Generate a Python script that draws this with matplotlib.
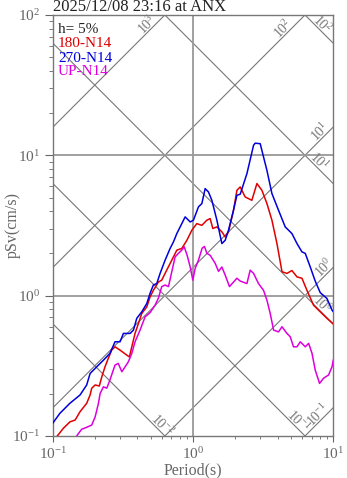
import numpy as np
import matplotlib
matplotlib.use("Agg")
import matplotlib.pyplot as plt

plt.rcParams["font.family"] = ["Liberation Serif", "DejaVu Serif"]
plt.rcParams["mathtext.fontset"] = "custom"
plt.rcParams["mathtext.rm"] = "Liberation Serif"
plt.rcParams["mathtext.it"] = "Liberation Serif:italic"

# response spectra (period s, pSv cm/s)
t_180 = [0.100, 0.109, 0.1186, 0.132, 0.144, 0.156, 0.174, 0.184, 0.189, 0.200, 0.214, 0.223, 0.235, 0.248,
         0.262, 0.277, 0.301, 0.336, 0.351, 0.365, 0.385, 0.407, 0.430, 0.467, 0.493, 0.520, 0.565, 0.597,
         0.648, 0.704, 0.765, 0.830, 0.902, 0.980, 1.062, 1.154, 1.253, 1.322, 1.382, 1.477, 1.603, 1.693,
         1.788, 1.941, 2.052, 2.167, 2.35, 2.624, 2.851, 3.096, 3.360, 3.648, 3.963, 4.305, 4.67, 5.068,
         5.507, 5.977, 6.49, 7.23, 8.07, 9.01, 10.0]
sv_180 = [0.091, 0.102, 0.1135, 0.126, 0.130, 0.149, 0.171, 0.196, 0.219, 0.231, 0.227, 0.264, 0.311, 0.357,
          0.409, 0.432, 0.409, 0.377, 0.366, 0.432, 0.538, 0.634, 0.746, 0.832, 0.980, 1.09, 1.25, 1.29,
          1.52, 1.79, 2.11, 2.17, 2.48, 2.93, 3.26, 3.17, 3.45, 3.54, 3.01, 3.09, 2.85, 2.62,
          2.85, 4.06, 5.63, 5.95, 5.05, 4.78, 6.29, 5.63, 4.53, 3.45, 2.35, 1.48, 1.44, 1.51,
          1.36, 1.33, 1.09, 0.855, 0.767, 0.689, 0.627]

t_270 = [0.100, 0.112, 0.132, 0.156, 0.174, 0.184, 0.205, 0.229, 0.255, 0.277, 0.301, 0.318, 0.355, 0.375,
         0.396, 0.430, 0.467, 0.493, 0.520, 0.550, 0.581, 0.631, 0.685, 0.723, 0.765, 0.830, 0.877, 0.953,
         1.005, 1.091, 1.154, 1.218, 1.286, 1.360, 1.477, 1.603, 1.693, 1.788, 1.941, 2.052, 2.167, 2.420,
         2.699, 2.773, 3.010, 3.179, 3.360, 3.648, 4.066, 4.538, 5.068, 5.507, 5.977, 6.31, 6.85, 7.43,
         8.07, 9.01, 9.79, 10.0]
sv_270 = [0.124, 0.145, 0.171, 0.196, 0.231, 0.279, 0.311, 0.347, 0.388, 0.469, 0.469, 0.538, 0.538, 0.568,
          0.689, 0.767, 0.879, 1.04, 1.19, 1.22, 1.44, 1.79, 2.17, 2.41, 2.77, 3.26, 3.64, 3.35,
          3.45, 4.29, 4.53, 5.79, 5.48, 4.78, 3.45, 2.35, 2.48, 2.93, 4.06, 5.19, 5.28, 7.41,
          11.8, 12.2, 12.1, 9.73, 7.82, 5.34, 4.06, 3.09, 2.77, 2.35, 2.05, 2.00, 1.60, 1.27,
          1.05, 0.955, 0.789, 0.769]

t_up = [0.135, 0.1476, 0.160, 0.174, 0.189, 0.200, 0.211, 0.217, 0.229, 0.242, 0.255, 0.277, 0.292, 0.310,
        0.327, 0.345, 0.365, 0.385, 0.418, 0.454, 0.493, 0.535, 0.565, 0.597, 0.631, 0.667, 0.704, 0.744,
        0.785, 0.830, 0.863, 0.906, 0.953, 0.995, 1.033, 1.091, 1.160, 1.205, 1.253, 1.322, 1.436, 1.517,
        1.603, 1.693, 1.816, 1.941, 2.052, 2.167, 2.420, 2.553, 2.699, 2.926, 3.179, 3.360, 3.548, 3.750,
        4.066, 4.305, 4.67, 4.93, 5.20, 5.507, 5.81, 6.31, 6.67, 7.05, 7.43, 7.98, 8.52, 9.25, 9.79, 10.0]
sv_up = [0.089, 0.100, 0.1116, 0.1153, 0.1197, 0.137, 0.171, 0.201, 0.224, 0.219, 0.251, 0.320, 0.329, 0.287,
         0.311, 0.338, 0.388, 0.469, 0.568, 0.706, 0.757, 0.855, 0.960, 1.16, 1.19, 1.16, 1.48, 1.89,
         2.00, 2.11, 2.23, 1.94, 1.60, 1.29, 1.56, 1.79, 2.18, 2.24, 2.00, 1.94, 1.70, 1.49,
         1.60, 1.40, 1.16, 1.25, 1.33, 1.27, 1.22, 1.52, 1.44, 1.22, 1.09, 0.929, 0.746, 0.568,
         0.552, 0.600, 0.538, 0.509, 0.432, 0.432, 0.469, 0.432, 0.457, 0.388, 0.295, 0.237, 0.258, 0.272,
         0.311, 0.347]

# tripartite grid: acceleration (cm/s2) and displacement (cm) levels
accel_levels = [1e-1, 1e0, 1e1, 1e2, 1e3]
accel_label_t = [8.35, 9.2, 8.63, 4.69, 0.501]
disp_levels = [1e-2, 1e-1, 1e0, 1e1, 1e2]
disp_label_t = [0.562, 5.27, 7.81, 7.43, 7.81]

gray = "#777777"
tick_gray = "#666666"

fig = plt.figure(figsize=(3.47, 4.78), dpi=100)
ax = fig.add_axes([0.1527, 0.0879, 0.8078, 0.8808])
ax.set_xscale("log")
ax.set_yscale("log")
ax.set_xlim(0.1, 10)
ax.set_ylim(0.1, 100)

tt = np.logspace(-1.5, 1.5, 50)
w = 2 * np.pi
for a, lt in zip(accel_levels, accel_label_t):
    ax.plot(tt, a * tt / w, color=gray, lw=0.8, zorder=1)
    k = int(round(np.log10(a)))
    ax.annotate("$10^{%d}$" % k, xy=(lt, a * lt / w), xytext=(-3, 3), textcoords="offset points",
                rotation=45, ha="center", va="center", rotation_mode="anchor",
                color=gray, fontsize=10, annotation_clip=False)
for d, lt in zip(disp_levels, disp_label_t):
    ax.plot(tt, w * d / tt, color=gray, lw=0.8, zorder=1)
    k = int(round(np.log10(d)))
    ax.annotate("$10^{%d}$" % k, xy=(lt, w * d / lt), xytext=(3, 3), textcoords="offset points",
                rotation=-45, ha="center", va="center", rotation_mode="anchor",
                color=gray, fontsize=10, annotation_clip=False)

# grid at the decades
ax.axvline(1, color="#999999", lw=1.3, zorder=1)
ax.axhline(1, color="#999999", lw=1.3, zorder=1)
ax.axhline(10, color="#999999", lw=1.3, zorder=1)

ax.plot(t_180, sv_180, color="#e00000", lw=1.1, zorder=3)
ax.plot(t_270, sv_270, color="#0000dd", lw=1.1, zorder=3)
ax.plot(t_up, sv_up, color="#dd00dd", lw=1.1, zorder=3)

ax.text(0.018, 0.965, "h= 5%", transform=ax.transAxes, color="#222222", fontsize=11, va="center")
ax.text(0.018, 0.932, "180-N14", transform=ax.transAxes, color="#e00000", fontsize=11, va="center")
ax.text(0.018, 0.897, "270-N14", transform=ax.transAxes, color="#0000dd", fontsize=11, va="center")
ax.text(0.018, 0.865, "UP-N14", transform=ax.transAxes, color="#dd00dd", fontsize=11, va="center")

for s in ax.spines.values():
    s.set_color(gray)
    s.set_linewidth(1.0)

ax.tick_params(axis="both", which="both", colors=tick_gray, labelcolor=tick_gray, labelsize=11)
ax.tick_params(axis="y", which="major", length=6, direction="out")
ax.tick_params(axis="y", which="minor", length=3, direction="out")
ax.tick_params(axis="x", which="major", length=4, direction="out")
ax.tick_params(axis="x", which="minor", length=2.5, direction="out")

ax.set_xlabel("Period(s)", color=tick_gray, fontsize=11.5, labelpad=0)
ax.set_ylabel("pSv(cm/s)", color=tick_gray, fontsize=11.5)
ax.yaxis.set_label_coords(-0.115, 0.5)
ax.set_title("2025/12/08 23:16 at ANX", loc="left", fontsize=12, color="#222222", pad=2)

fig.savefig("out.png", dpi=100)
